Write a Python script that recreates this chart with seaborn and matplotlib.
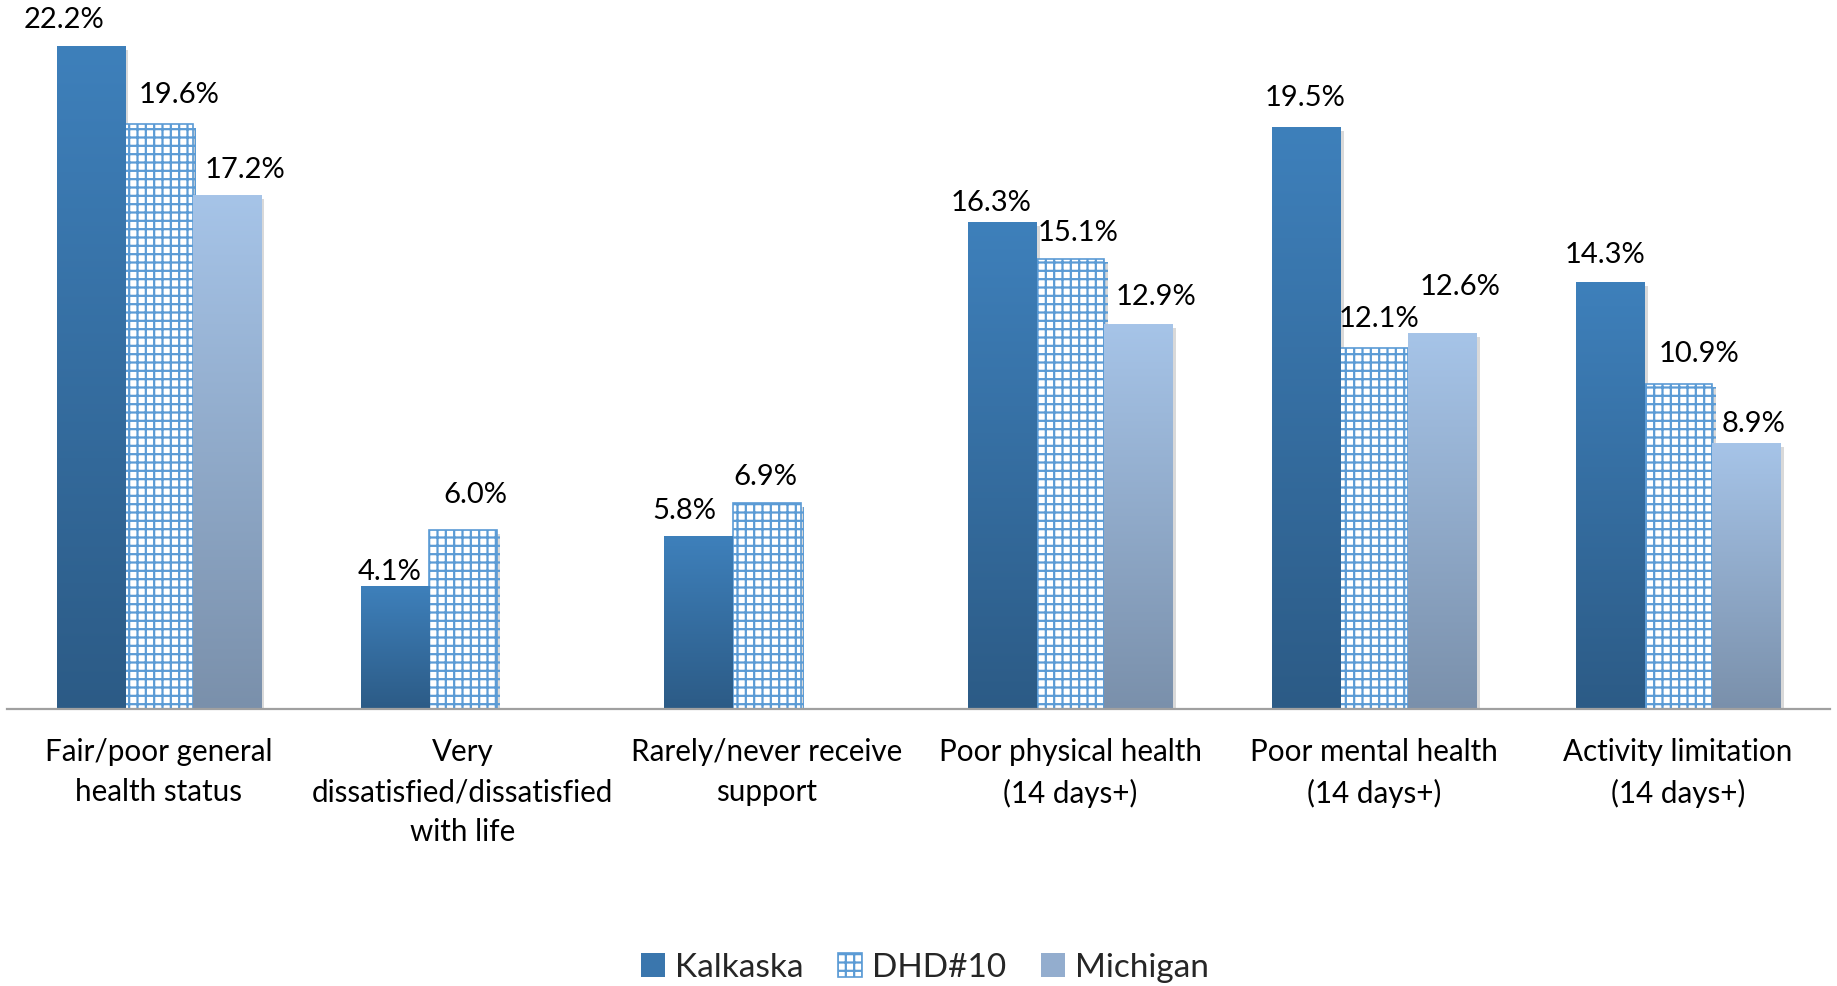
import numpy as np
import pandas as pd
import matplotlib
matplotlib.use("Agg")
import matplotlib.pyplot as plt
import seaborn as sns
from matplotlib.patches import Patch
from matplotlib.colors import to_rgb
import matplotlib.patheffects as pe

# ---------------- data ----------------
categories = [
    "Fair/poor general\nhealth status",
    "Very\ndissatisfied/dissatisfied\nwith life",
    "Rarely/never receive\nsupport",
    "Poor physical health\n(14 days+)",
    "Poor mental health\n(14 days+)",
    "Activity limitation\n(14 days+)",
]
series = ["Kalkaska", "DHD#10", "Michigan"]
kalkaska = [22.2, 4.1, 5.8, 16.3, 19.5, 14.3]
dhd10 = [19.6, 6.0, 6.9, 15.1, 12.1, 10.9]
michigan = [17.2, np.nan, np.nan, 12.9, 12.6, 8.9]

# label nudges (pixels), per series x category
LABEL_DX = [[-27, -5, -14, -11, -1, -5],
            [20, 13, -1, 8, 5, 21],
            [18, 0, 0, 18, 18, 7]]
LABEL_DY = [[27, 15, 25, 20, 29, 27],
            [29, 35, 26, 26, 29, 30],
            [26, 0, 0, 27, 46, 20]]

values = {"Kalkaska": kalkaska, "DHD#10": dhd10, "Michigan": michigan}
rows = []
for s in series:
    for c, v in zip(categories, values[s]):
        rows.append({"category": c, "series": s, "value": v})
df = pd.DataFrame(rows)

# ---------------- style ----------------
sns.set_style("white")
plt.rcParams["font.family"] = ["Lato", "DejaVu Sans"]
plt.rcParams["hatch.linewidth"] = 1.6
plt.rcParams["hatch.color"] = "#5b9bd5"

grad = {
    "Kalkaska": ("#3e80bb", "#2c5b86"),
    "Michigan": ("#a6c4e8", "#7a90ab"),
}
hatch_col = "#5b9bd5"

fig = plt.figure(figsize=(18.37, 9.86), dpi=100)
ax = fig.add_axes([7 / 1837, 1 - 709 / 986, (1830 - 7) / 1837, 709 / 986])

sns.barplot(data=df, x="category", y="value", hue="series", order=categories,
            hue_order=series, palette=["#3a75ab", "#ffffff", "#90aacb"],
            width=0.672, gap=0, dodge=True, legend=False, ax=ax,
            err_kws={"linewidth": 0}, saturation=1)

ymax = 23.77
for si, (s, cont) in enumerate(zip(series, ax.containers)):
    for bar in cont:
        h = bar.get_height()
        if h is None or np.isnan(h) or h <= 0:
            continue
        x0, w = bar.get_x(), bar.get_width()
        ci = int(round(x0 + w / 2))
        shadow = pe.SimplePatchShadow(offset=(2.5, -2.5), alpha=0.22, shadow_rgbFace="#555555")
        if s == "DHD#10":
            bar.set_facecolor("white")
            bar.set_edgecolor(hatch_col)
            bar.set_hatch("++")
            bar.set_linewidth(1.2)
            bar.set_path_effects([shadow, pe.Normal()])
        else:
            top, bot = grad[s]
            bar.set_facecolor(bot)
            bar.set_edgecolor("none")
            bar.set_path_effects([shadow, pe.Normal()])
            t = np.linspace(0, 1, 256)[:, None]
            c0, c1 = np.array(to_rgb(top)), np.array(to_rgb(bot))
            img = (c0[None, :] * (1 - t) + c1[None, :] * t)[:, None, :]
            ax.imshow(img, extent=[x0, x0 + w, 0, h], origin="upper",
                      aspect="auto", interpolation="bilinear", zorder=bar.get_zorder() + 0.1)
        ax.annotate(f"{h:.1f}%", (x0 + w / 2, h),
                    xytext=(LABEL_DX[si][ci], LABEL_DY[si][ci]), textcoords="offset pixels",
                    ha="center", va="center", fontsize=21, color="black", zorder=5)

ax.set_xlim(-0.5, 5.5)
ax.set_ylim(0, ymax)
ax.set_xlabel("")
ax.set_ylabel("")
ax.set_yticks([])
for sp in ["top", "left", "right"]:
    ax.spines[sp].set_visible(False)
ax.spines["bottom"].set_color("#a0a0a0")
ax.spines["bottom"].set_linewidth(1.6)
ax.set_xticks(range(len(categories)))
ax.set_xticklabels(categories, fontsize=21.3, linespacing=1.52)
ax.set_xticks(np.arange(-0.5, 6.0, 1.0), minor=True)
ax.tick_params(axis="x", which="major", length=0, pad=21, colors="black")
ax.tick_params(axis="x", which="minor", length=10, width=1.6, color="#a0a0a0", direction="out")

handles = [
    Patch(facecolor="#3a76ad", edgecolor="none", label="Kalkaska"),
    Patch(facecolor="white", edgecolor=hatch_col, hatch="++", linewidth=1.2, label="DHD#10"),
    Patch(facecolor="#93adce", edgecolor="none", label="Michigan"),
]
fig.legend(handles=handles, loc="center", bbox_to_anchor=(925 / 1837, 1 - 968 / 986),
           ncol=3, frameon=False, fontsize=24, handlelength=0.72, handleheight=0.72,
           handletextpad=0.3, columnspacing=1.05)

fig.savefig("out.png", dpi=100)
